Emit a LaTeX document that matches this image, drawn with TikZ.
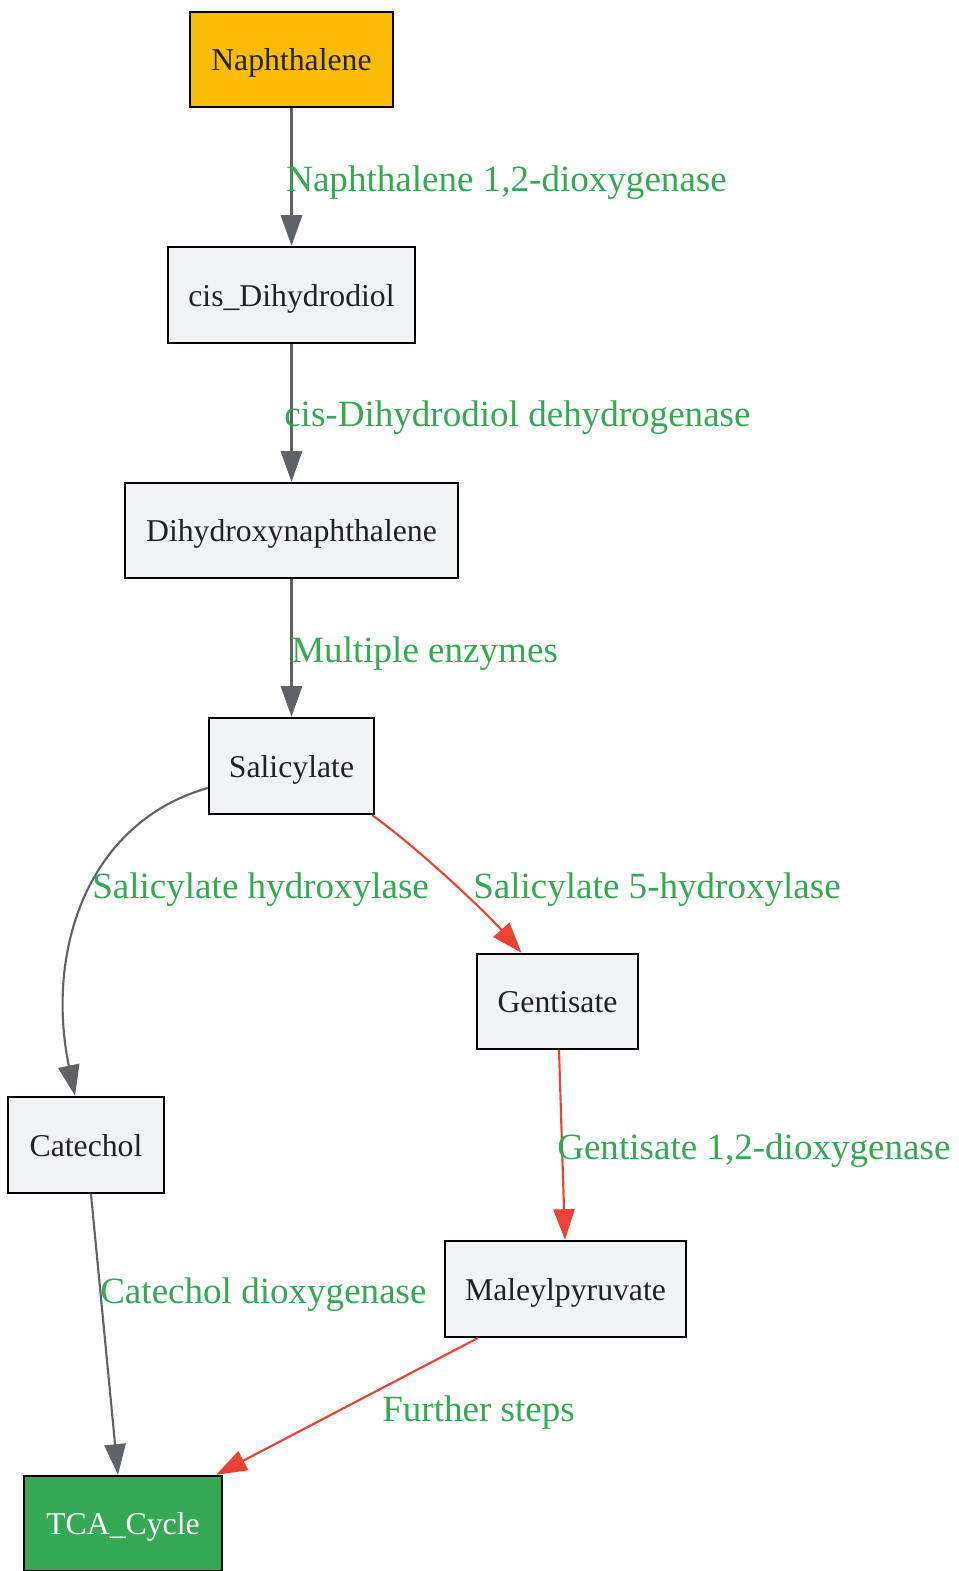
\documentclass[tikz,border=0pt]{standalone}
\usepackage{fontspec}
\setmainfont{Liberation Serif}
\usetikzlibrary{arrows.meta,calc}
\definecolor{nodefill}{HTML}{F1F3F4}
\definecolor{startfill}{HTML}{FBBC05}
\definecolor{endfill}{HTML}{34A853}
\definecolor{txt}{HTML}{202124}
\definecolor{grayedge}{HTML}{5F6368}
\definecolor{rededge}{HTML}{EA4335}
\definecolor{lblgreen}{HTML}{34A853}
\begin{document}
\begin{tikzpicture}[x=0.75pt,y=-0.75pt,
  box/.style={draw=black, line width=1.8pt, fill=nodefill, text=txt,
    font=\fontsize{23.8pt}{28pt}\selectfont, inner sep=0pt,
    text height=18pt, text depth=1pt},
  wh/.style 2 args={minimum width=#1*0.75pt, minimum height=#2*0.75pt},
  lbl/.style={text=lblgreen, font=\fontsize{27.8pt}{32pt}\selectfont,
    inner sep=0pt, anchor=base west},
  gedge/.style={draw=grayedge, line width=1.6pt,
    -{Triangle[length=23pt,width=16pt]}},
  redge/.style={draw=rededge, line width=1.6pt,
    -{Triangle[length=23pt,width=16pt]}}
]
\useasboundingbox (0,0) rectangle (959,1571);

% nodes
\node[box, wh={203}{95}, fill=startfill] (naph) at (291.5,59.5) {Naphthalene};
\node[box, wh={247}{96}] (cis) at (291.5,295) {cis\_Dihydrodiol};
\node[box, wh={333}{95}] (dhn) at (291.5,530.5) {Dihydroxynaphthalene};
\node[box, wh={165}{96}] (sal) at (291.5,766) {Salicylate};
\node[box, wh={161}{95}] (gen) at (557.5,1001.5) {Gentisate};
\node[box, wh={156}{96}] (cat) at (86,1145) {Catechol};
\node[box, wh={241}{96}] (mal) at (565.5,1289) {Maleylpyruvate};
\node[box, wh={198}{95}, fill=endfill, text=white] (tca) at (123,1523.5) {TCA\_Cycle};

% edges
\draw[gedge] (naph) -- (cis);
\draw[gedge] (cis) -- (dhn);
\draw[gedge] (dhn) -- (sal);
\draw[gedge] ($(sal.west)+(0,22)$) .. controls (88,822) and (45,950) .. ($(cat.north)+(-11,0)$);
\draw[redge] ($(sal.south east)+(-3,0)$) .. controls +(45,32) and +(-35,-40) .. ($(gen.north)+(-36,0)$);
\draw[redge] ($(gen.south)+(1.5,0)$) -- ($(mal.north)+(-0.5,0)$);
\draw[gedge] ($(cat.south)+(5,0)$) -- ($(tca.north)+(-5,0)$);
\draw[redge] ($(mal.south)+(-88,0)$) -- ($(tca.north east)+(-7,0)$);

% labels
\node[lbl] (l1) at (286,191) {Naphthalene 1,2-dioxygenase};
\node[lbl] (l2) at (284,426) {cis-Dihydrodiol dehydrogenase};
\node[lbl] (l3) at (291,662) {Multiple enzymes};
\node[lbl] (l4) at (92,898) {Salicylate hydroxylase};
\node[lbl] (l5) at (473,898) {Salicylate 5-hydroxylase};
\node[lbl] (l6) at (557,1159) {Gentisate 1,2-dioxygenase};
\node[lbl] (l7) at (100,1303) {Catechol dioxygenase};
\node[lbl] (l8) at (382,1421) {Further steps};
\end{tikzpicture}
\end{document}
